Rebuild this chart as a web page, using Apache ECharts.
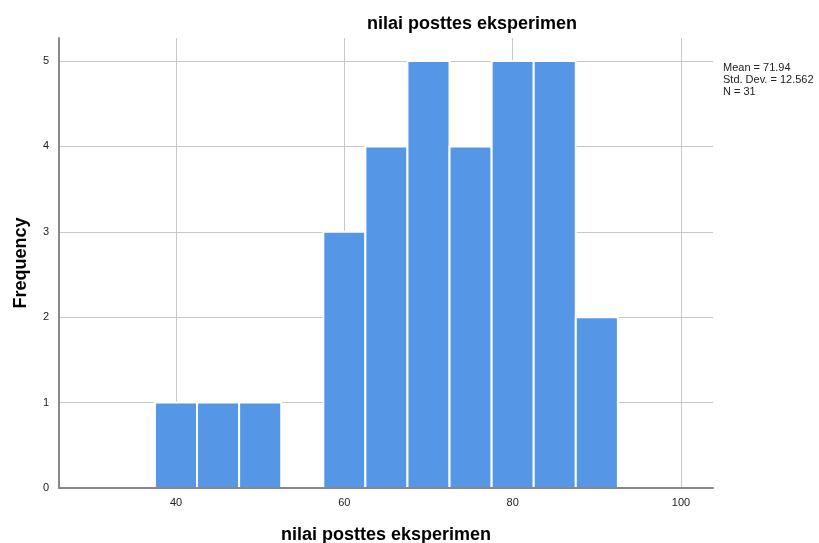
<!DOCTYPE html>
<html><head><meta charset="utf-8">
<script src="https://cdn.jsdelivr.net/npm/echarts@6/dist/echarts.min.js"></script>
<style>html,body{margin:0;padding:0;background:#fff}#c{width:819px;height:543px}</style>
</head><body><div id="c"></div>
<script>
const binCenters = [40, 45, 50, 55, 60, 65, 70, 75, 80, 85, 90];
const counts = [1, 1, 1, 0, 3, 4, 5, 4, 5, 5, 2];
const binWidth = 5;
const xTicks = [40, 60, 80, 100];
const yTicks = [0, 1, 2, 3, 4, 5];
const statsLines = ['Mean = 71.94', 'Std. Dev. = 12.562', 'N = 31'];

const chart = echarts.init(document.getElementById('c'));
const font = 'Liberation Sans, Arial, sans-serif';
const xMin = 26.1, xMax = 103.8;
chart.setOption({
  animation: false,
  textStyle: {fontFamily: font},
  title: {
    text: 'nilai posttes eksperimen',
    left: 467, top: 10, textAlign: 'center',
    textStyle: {fontSize: 18, fontWeight: 'bold', color: '#000', fontFamily: font}
  },
  graphic: statsLines.map((t, i) => ({
    type: 'text', left: 723, top: 62.5 + i * 12,
    style: {text: t, fontSize: 11, fill: '#222', fontFamily: font}
  })),
  grid: {left: 59, right: 106, top: 38, bottom: 55, outerBoundsMode: 'none', containLabel: false},
  xAxis: [{
    type: 'value', min: xMin, max: xMax,
    name: 'nilai posttes eksperimen', nameLocation: 'middle', nameGap: 38,
    nameTextStyle: {fontSize: 18, fontWeight: 'bold', color: '#000', fontFamily: font},
    axisLine: {show: false},
    axisTick: {show: false, customValues: xTicks},
    axisLabel: {customValues: xTicks, color: '#222', fontSize: 11, margin: 9, fontFamily: font},
    splitLine: {show: true, lineStyle: {color: '#c8c8c8', width: 1}}
  }, {
    type: 'value', min: xMin, max: xMax, position: 'bottom', z: 10,
    axisLine: {show: true, onZero: false, lineStyle: {color: '#888', width: 2}},
    axisTick: {show: false}, axisLabel: {show: false}, splitLine: {show: false}
  }],
  yAxis: {
    type: 'value', min: 0, max: 5.27,
    name: 'Frequency', nameLocation: 'middle', nameGap: 29, nameRotate: 90,
    nameTextStyle: {fontSize: 18, fontWeight: 'bold', color: '#000', fontFamily: font},
    axisLine: {show: true, lineStyle: {color: '#888', width: 2}},
    axisTick: {show: false, customValues: yTicks},
    axisLabel: {customValues: yTicks, color: '#222', fontSize: 11, margin: 10, fontFamily: font},
    splitLine: {show: true, lineStyle: {color: '#c8c8c8', width: 1}}
  },
  series: [{
    type: 'custom', z: 2, xAxisIndex: 0,
    data: binCenters.map((c, i) => [c, counts[i]]),
    renderItem: function (params, api) {
      const c = api.value(0), v = api.value(1);
      if (!v) return null;
      const p0 = api.coord([c - binWidth / 2, v]);
      const p1 = api.coord([c + binWidth / 2, 0]);
      return {
        type: 'rect',
        shape: {x: p0[0], y: p0[1], width: p1[0] - p0[0], height: p1[1] - p0[1]},
        style: {fill: '#5596e6', stroke: '#ffffff', lineWidth: 2}
      };
    }
  }]
});
</script></body></html>
